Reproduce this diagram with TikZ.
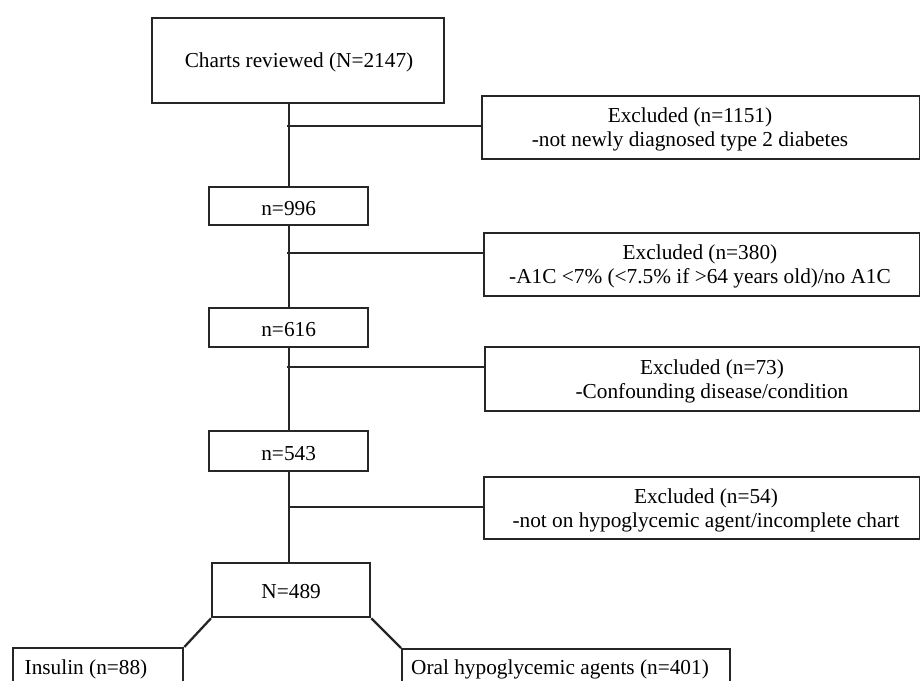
\documentclass[tikz,border=0pt]{standalone}
\usepackage{fontspec}
\setmainfont{Liberation Serif}
\begin{document}
\begin{tikzpicture}[x=1pt,y=-1pt,
  box/.style={draw=black!85, line width=2.3pt, inner sep=0pt, anchor=north west,
              font=\fontsize{21.3}{24}\selectfont},
  txt/.style={font=\fontsize{21.3}{24}\selectfont, align=center, inner sep=0pt},
  conn/.style={draw=black!85, line width=2.3pt}]
\useasboundingbox (0,0) rectangle (920,680);
\clip (0,0) rectangle (920,680);
% main column
\node[box, minimum width=292pt, minimum height=85pt] (top) at (151,17) {};
\node[box, minimum width=159pt, minimum height=38pt] (n996) at (208,186) {};
\node[box, minimum width=159pt, minimum height=39pt] (n616) at (208,307) {};
\node[box, minimum width=159pt, minimum height=40pt] (n543) at (208,430) {};
\node[box, minimum width=158pt, minimum height=54pt] (n489) at (211,562) {};
\node[txt] (ttop) at (299,62) {Charts reviewed (N=2147)};
\node[txt] (t996) at ([yshift=-2pt]n996.center) {n=996};
\node[txt] (t616) at ([yshift=-2pt]n616.center) {n=616};
\node[txt] (t543) at ([yshift=-2pt]n543.center) {n=543};
\node[txt] (t489) at ([yshift=-1pt]n489.center) {N=489};
% exclusion boxes
\node[box, minimum width=438pt, minimum height=63pt] (e1) at (481,95) {};
\node[box, minimum width=436pt, minimum height=63pt] (e2) at (483,232) {};
\node[box, minimum width=435pt, minimum height=64pt] (e3) at (484,346) {};
\node[box, minimum width=436pt, minimum height=62pt] (e4) at (483,476) {};
\node[txt] (t1) at (690,129) {Excluded (n=1151)\\-not newly diagnosed type 2 diabetes};
\node[txt] (t2) at (700,266) {Excluded (n=380)\\-A1C <7\% (<7.5\% if >64 years old)/no A1C};
\node[txt] (t3) at (712,381) {Excluded (n=73)\\-Confounding disease/condition};
\node[txt] (t4) at (706,510) {Excluded (n=54)\\-not on hypoglycemic agent/incomplete chart};
% outcome boxes
\node[box, minimum width=170pt, minimum height=60pt] (ins) at (12,647) {};
\node[box, minimum width=328pt, minimum height=60pt] (oral) at (401,648) {};
\node[txt] (tins) at (86,669) {Insulin (n=88)};
\node[txt] (toral) at (560,669) {Oral hypoglycemic agents (n=401)};
% junctions on the spine
\coordinate (j1) at (287,126);
\coordinate (j2) at (287,253);
\coordinate (j3) at (287,367);
\coordinate (j4) at (288,507);
% connectors
\draw[conn] (n996.north |- top.south) -- (n996.north);
\draw[conn] (n996.south) -- (n616.north);
\draw[conn] (n616.south) -- (n543.north);
\draw[conn] (n543.south) -- (n543.south |- n489.north);
\draw[conn] (j1) -- (j1 -| e1.west);
\draw[conn] (j2) -- (j2 -| e2.west);
\draw[conn] (j3) -- (j3 -| e3.west);
\draw[conn] (j4) -- (j4 -| e4.west);
\draw[conn] (n489.south west) -- (ins.north east);
\draw[conn] (n489.south east) -- (oral.north west);
\end{tikzpicture}
\end{document}
